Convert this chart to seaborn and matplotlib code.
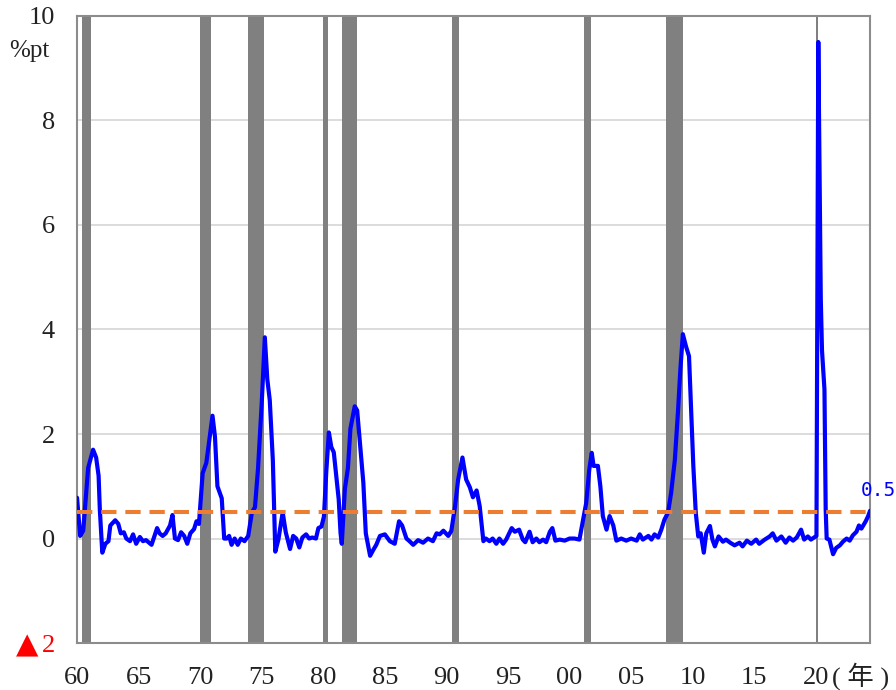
import matplotlib
matplotlib.use('Agg')
import matplotlib.pyplot as plt
import seaborn as sns

# Sahm rule indicator (%pt)
years = [
    1960.00, 1960.25, 1960.50, 1960.90, 1961.30, 1961.55, 1961.75, 1961.85, 1962.05, 1962.30,
    1962.55, 1962.70, 1962.90, 1963.10, 1963.35, 1963.55, 1963.80, 1964.00, 1964.30, 1964.55,
    1964.80, 1965.10, 1965.35, 1965.60, 1966.05, 1966.50, 1966.70, 1966.95, 1967.20, 1967.55,
    1967.75, 1967.95, 1968.20, 1968.45, 1968.70, 1968.95, 1969.20, 1969.50, 1969.70, 1969.90,
    1970.20, 1970.50, 1970.80, 1971.00, 1971.20, 1971.40, 1971.75, 1971.95, 1972.15, 1972.35,
    1972.55, 1972.80, 1973.05, 1973.30, 1973.60, 1973.90, 1974.20, 1974.45, 1974.70, 1975.00,
    1975.25, 1975.45, 1975.65, 1975.90, 1976.10, 1976.35, 1976.70, 1976.95, 1977.30, 1977.55,
    1977.80, 1978.05, 1978.30, 1978.60, 1978.85, 1979.10, 1979.40, 1979.60, 1979.85, 1980.05,
    1980.25, 1980.45, 1980.65, 1980.85, 1981.05, 1981.25, 1981.40, 1981.50, 1981.75, 1982.00,
    1982.20, 1982.55, 1982.75, 1982.95, 1983.25, 1983.45, 1983.80, 1984.05, 1984.30, 1984.60,
    1985.00, 1985.40, 1985.80, 1986.15, 1986.40, 1986.75, 1987.00, 1987.30, 1987.70, 1988.10,
    1988.50, 1988.90, 1989.20, 1989.45, 1989.75, 1990.15, 1990.40, 1990.70, 1990.95, 1991.30,
    1991.60, 1991.90, 1992.15, 1992.45, 1992.70, 1993.00, 1993.20, 1993.50, 1993.75, 1994.05,
    1994.30, 1994.60, 1994.85, 1995.30, 1995.55, 1995.90, 1996.20, 1996.40, 1996.75, 1997.00,
    1997.30, 1997.55, 1997.85, 1998.10, 1998.40, 1998.60, 1998.85, 1999.20, 1999.60, 2000.00,
    2000.40, 2000.80, 2001.10, 2001.35, 2001.60, 2001.80, 2001.95, 2002.30, 2002.50, 2002.70,
    2003.00, 2003.25, 2003.55, 2003.80, 2004.20, 2004.60, 2005.00, 2005.45, 2005.70, 2005.95,
    2006.40, 2006.65, 2006.90, 2007.20, 2007.45, 2007.70, 2008.00, 2008.25, 2008.55, 2008.80,
    2009.00, 2009.20, 2009.45, 2009.70, 2009.85, 2010.05, 2010.25, 2010.45, 2010.65, 2010.90,
    2011.10, 2011.40, 2011.60, 2011.80, 2012.10, 2012.45, 2012.70, 2013.05, 2013.40, 2013.80,
    2014.05, 2014.40, 2014.75, 2015.15, 2015.40, 2015.85, 2016.25, 2016.50, 2016.80, 2017.20,
    2017.55, 2017.85, 2018.15, 2018.45, 2018.80, 2019.05, 2019.35, 2019.60, 2019.85, 2020.05,
    2020.12, 2020.20, 2020.30, 2020.40, 2020.50, 2020.70, 2020.80, 2020.88, 2021.10, 2021.40,
    2021.65, 2021.95, 2022.20, 2022.50, 2022.75, 2023.00, 2023.30, 2023.50, 2023.70, 2023.90,
    2024.05, 2024.25, 2024.40,
]
values = [
    0.78, 0.05, 0.15, 1.35, 1.70, 1.55, 1.20, 0.55, -0.27, -0.10,
    -0.05, 0.25, 0.30, 0.35, 0.28, 0.10, 0.12, 0.00, -0.05, 0.08,
    -0.10, 0.03, -0.05, -0.03, -0.12, 0.20, 0.10, 0.05, 0.10, 0.25,
    0.45, 0.00, -0.03, 0.12, 0.05, -0.10, 0.10, 0.18, 0.33, 0.28,
    1.25, 1.45, 2.00, 2.35, 1.95, 1.00, 0.77, 0.00, 0.00, 0.05,
    -0.12, 0.00, -0.12, 0.00, -0.05, 0.05, 0.50, 0.60, 1.35, 2.60,
    3.85, 3.05, 2.65, 1.50, -0.25, -0.02, 0.50, 0.12, -0.20, 0.05,
    0.00, -0.17, 0.02, 0.08, 0.00, 0.02, 0.00, 0.20, 0.23, 0.42,
    1.32, 2.03, 1.75, 1.65, 1.20, 0.75, 0.10, -0.10, 0.95, 1.35,
    2.10, 2.53, 2.45, 1.90, 1.07, 0.10, -0.33, -0.22, -0.12, 0.05,
    0.08, -0.05, -0.10, 0.33, 0.25, 0.00, -0.05, -0.12, -0.03, -0.08,
    0.00, -0.05, 0.10, 0.08, 0.15, 0.05, 0.15, 0.62, 1.13, 1.55,
    1.13, 0.98, 0.79, 0.92, 0.62, -0.05, 0.00, -0.05, 0.00, -0.10,
    0.00, -0.10, -0.02, 0.20, 0.13, 0.17, -0.02, -0.07, 0.13, -0.07,
    0.00, -0.07, -0.02, -0.07, 0.13, 0.20, -0.04, -0.02, -0.04, 0.00,
    0.00, -0.02, 0.36, 0.68, 1.32, 1.64, 1.39, 1.39, 1.00, 0.43,
    0.17, 0.43, 0.25, -0.04, 0.00, -0.04, 0.00, -0.04, 0.08, -0.02,
    0.05, -0.02, 0.08, 0.02, 0.17, 0.36, 0.50, 0.88, 1.51, 2.41,
    3.24, 3.91, 3.68, 3.49, 2.60, 1.39, 0.49, 0.04, 0.10, -0.27,
    0.10, 0.24, -0.02, -0.15, 0.04, -0.06, -0.02, -0.08, -0.13, -0.08,
    -0.15, -0.04, -0.10, -0.02, -0.10, -0.02, 0.04, 0.10, -0.04, 0.04,
    -0.08, 0.02, -0.04, 0.02, 0.17, -0.02, 0.04, -0.02, 0.02, 0.05,
    4.50, 9.50, 7.10, 4.60, 3.60, 2.85, 0.55, 0.00, -0.02, -0.30,
    -0.18, -0.13, -0.06, 0.00, -0.04, 0.06, 0.13, 0.25, 0.19, 0.27,
    0.33, 0.43, 0.53,
]

# recession periods (shaded)
rec_start = [1960.40, 1969.95, 1973.90, 1980.00, 1981.50, 1990.45, 2001.15, 2007.85, 2020.05]
rec_end = [1961.10, 1970.85, 1975.15, 1980.40, 1982.75, 1991.05, 2001.70, 2009.25, 2020.17]

threshold = 0.5
latest_label = '0.53'
xtick_years = list(range(1960, 2021, 5))
xtick_labels = ['60', '65', '70', '75', '80', '85', '90', '95', '00', '05', '10', '15', '20']
ytick_values = [-2, 0, 2, 4, 6, 8, 10]
ytick_labels = ['2', '0', '2', '4', '6', '8', '10']  # -2 is shown as ▲2

sns.set_theme(style='white')
plt.rcParams['font.family'] = ['Liberation Serif', 'DejaVu Sans', 'Noto Sans CJK JP']

fig = plt.figure(figsize=(8.96, 6.9), dpi=100)
ax = fig.add_axes([0.086, 0.068, 0.885, 0.909])

for s, e in zip(rec_start, rec_end):
    ax.axvspan(s, e, color='#808080', lw=0, zorder=1)

sns.lineplot(x=years, y=values, color='#0000ff', lw=3.0, ax=ax, zorder=3)
ax.axhline(threshold, color='#ed7d31', lw=2.9, ls=(0, (3.8, 2.2)), zorder=4)

ax.set_xlim(1960, 2024.4)
ax.set_ylim(-2, 10)
ax.set_xticks(xtick_years)
ax.set_xticklabels(xtick_labels)
ax.set_yticks(ytick_values)
ax.set_yticklabels(ytick_labels)
ax.tick_params(axis='both', length=0, labelsize=19, colors='#222222')
ax.get_yticklabels()[0].set_color('red')
ax.tick_params(axis='y', pad=16)
ax.tick_params(axis='x', pad=17)
ax.yaxis.grid(True, color='#d9d9d9', lw=1.3)
ax.xaxis.grid(False)
ax.set_axisbelow(True)
ax.set_xlabel('')
ax.set_ylabel('')

for sp in ax.spines.values():
    sp.set_visible(True)
    sp.set_color('#8c8c8c')
    sp.set_linewidth(1.5)

ax.text(2023.64, 0.92, latest_label, color='#0000ff', fontsize=14,
        family='DejaVu Sans Mono', ha='left', va='center', clip_on=False)

# red triangle in front of the "2" at -2
fig.text(38 / 896, 1 - 653 / 690, '▲', fontsize=21, ha='right', va='baseline',
         color='red', family=['DejaVu Sans'])
fig.text(9 / 896, 1 - 51 / 690, '%pt', fontsize=18, ha='left', va='center', color='#222222')
fig.text(832 / 896, 1 - 676 / 690, '( 年 )', fontsize=19, ha='left', va='center',
         color='#222222')

fig.savefig('out.png', dpi=100)
